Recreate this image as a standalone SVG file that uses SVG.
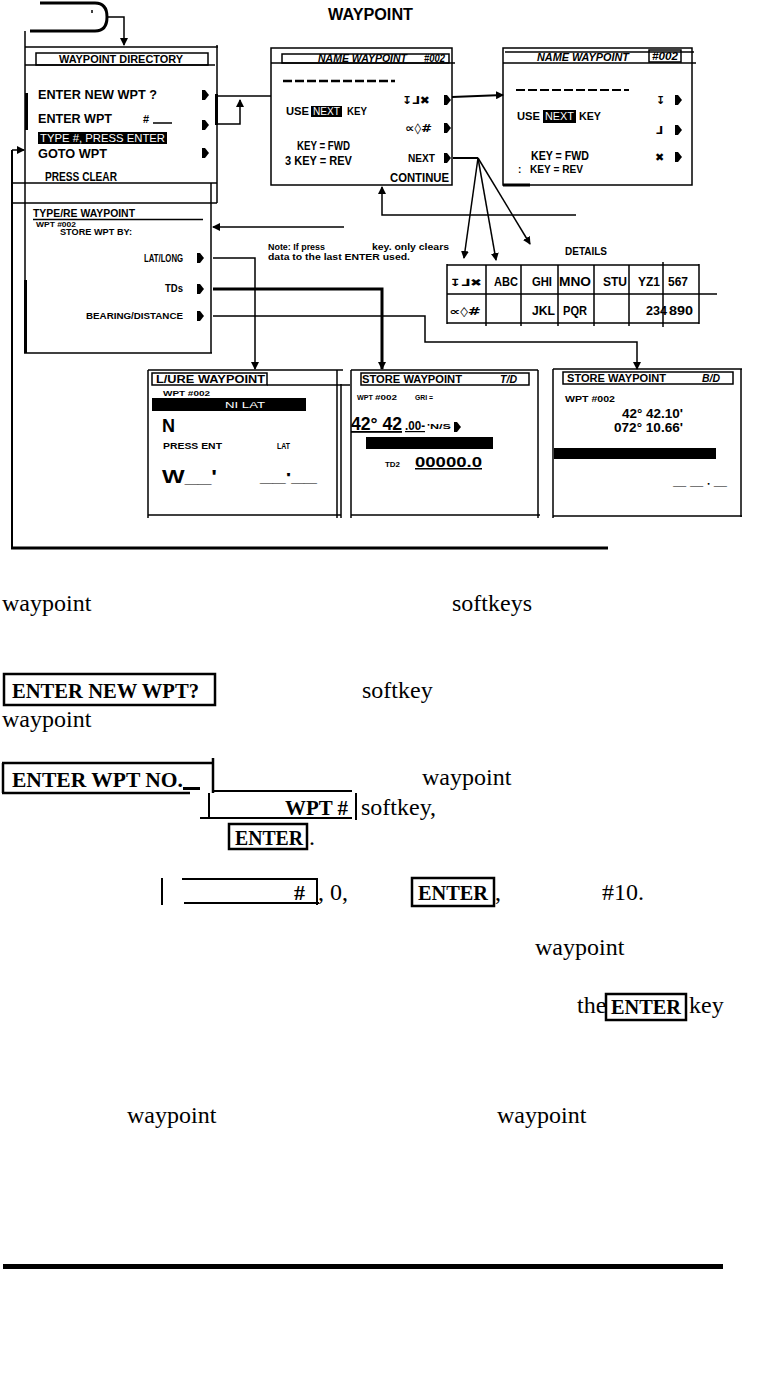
<svg xmlns="http://www.w3.org/2000/svg" width="784" height="1381" viewBox="0 0 784 1381">
<style>
.l{fill:none;stroke:#000;stroke-width:1.5}
.k{fill:none;stroke:#000;stroke-width:3}
.t{font-family:"Liberation Sans Narrow","Liberation Sans",Arial,sans-serif;font-weight:bold;fill:#000}
.s{font-family:"DejaVu Sans",sans-serif;font-weight:bold;fill:#000}
.w{fill:#fff;font-weight:normal}
.b{font-family:"Liberation Serif","Times New Roman",serif;font-size:24px;fill:#000}
.bb{font-family:"Liberation Serif","Times New Roman",serif;font-weight:bold;font-size:22px;fill:#000}
.bx{fill:none;stroke:#000;stroke-width:2.5}
</style>
<defs>
<marker id="ah" markerWidth="8" markerHeight="8" refX="7" refY="4" orient="auto" markerUnits="userSpaceOnUse"><path d="M0,0 L8,4 L0,8 Z"/></marker>
<path id="dia" d="M-3,-5 L0,-5 L4,0 L0,5 L-3,5 Z"/>
</defs>

<!-- top decoration -->
<g id="start">
<path class="k" d="M40,3 H95 Q107,3 107,17 Q107,31 95,31 H30"/>
<line x1="92" y1="10" x2="92" y2="13" class="l"/>
<text x="328" y="20" class="t" font-size="16" textLength="85" lengthAdjust="spacingAndGlyphs">WAYPOINT</text>
</g>

<!-- Waypoint directory -->
<g id="waypoint-directory">
<line x1="25" y1="31" x2="25" y2="203" class="l"/>
<line x1="25" y1="47" x2="218" y2="47" class="l" stroke-width="2"/>
<line x1="217" y1="45" x2="217" y2="203" class="l"/>
<rect x="36" y="53" width="172" height="12" class="l" stroke-width="1.2"/>
<line x1="25" y1="65" x2="215" y2="65" class="l" stroke-width="1"/>
<text x="59" y="63" class="t" font-size="11" textLength="124" lengthAdjust="spacingAndGlyphs">WAYPOINT DIRECTORY</text>
<rect x="25" y="93" width="3" height="37"/>
<rect x="215" y="94" width="3" height="31"/>
<text x="38" y="99" class="t" font-size="13" textLength="119" lengthAdjust="spacingAndGlyphs">ENTER NEW WPT ?</text>
<text x="38" y="123" class="t" font-size="13" textLength="74" lengthAdjust="spacingAndGlyphs">ENTER WPT</text>
<text x="143" y="123" class="t" font-size="11">#</text>
<line x1="153" y1="123" x2="172" y2="123" class="l"/>
<rect x="38" y="132" width="129" height="12"/>
<text x="40" y="142" class="t w" font-size="11" textLength="125" lengthAdjust="spacingAndGlyphs">TYPE #, PRESS ENTER</text>
<text x="38" y="158" class="t" font-size="12" textLength="69" lengthAdjust="spacingAndGlyphs">GOTO WPT</text>
<text x="45" y="181" class="t" font-size="12" textLength="72" lengthAdjust="spacingAndGlyphs">PRESS CLEAR</text>
<use href="#dia" x="205" y="95"/>
<use href="#dia" x="205" y="125"/>
<use href="#dia" x="205" y="153"/>
<line x1="12" y1="183" x2="217" y2="183" class="l" stroke-width="2"/>
</g>

<!-- Name waypoint 1 -->
<g id="name-waypoint-1">
<rect x="271" y="48" width="181" height="137" class="l" stroke-width="1.8"/>
<rect x="282" y="54" width="167" height="9" class="l" stroke-width="1"/>
<line x1="271" y1="63" x2="455" y2="63" class="l" stroke-width="1"/>
<text x="318" y="62" class="t" font-size="10" font-style="italic" textLength="89" lengthAdjust="spacingAndGlyphs">NAME WAYPOINT</text>
<text x="424" y="62" class="t" font-size="10" font-style="italic" textLength="21" lengthAdjust="spacingAndGlyphs">#002</text>
<line x1="283" y1="81" x2="395" y2="81" stroke="#000" stroke-width="2.5" stroke-dasharray="9 3"/>
<text x="286" y="115" class="t" font-size="11" textLength="23" lengthAdjust="spacingAndGlyphs">USE</text>
<rect x="311" y="106" width="31" height="11"/>
<text x="313" y="115" class="t w" font-size="10" textLength="27" lengthAdjust="spacingAndGlyphs">NEXT</text>
<text x="347" y="115" class="t" font-size="11" textLength="20" lengthAdjust="spacingAndGlyphs">KEY</text>
<text x="402" y="104" class="s" font-size="11" textLength="28" lengthAdjust="spacingAndGlyphs">↧⅃✖</text>
<text x="405" y="132" class="s" font-size="11" textLength="27" lengthAdjust="spacingAndGlyphs">∝◊#</text>
<use href="#dia" x="447" y="100"/>
<use href="#dia" x="447" y="128"/>
<text x="297" y="150" class="t" font-size="12" textLength="53" lengthAdjust="spacingAndGlyphs">KEY = FWD</text>
<text x="285" y="165" class="t" font-size="12" textLength="67" lengthAdjust="spacingAndGlyphs">3 KEY = REV</text>
<text x="408" y="162" class="t" font-size="11" textLength="27" lengthAdjust="spacingAndGlyphs">NEXT</text>
<use href="#dia" x="447" y="158"/>
<text x="390" y="182" class="t" font-size="12" textLength="59" lengthAdjust="spacingAndGlyphs">CONTINUE</text>
</g>

<!-- Name waypoint 2 -->
<g id="name-waypoint-2">
<rect x="503" y="48" width="189" height="137" class="l" stroke-width="1.8"/>
<line x1="505" y1="52" x2="694" y2="52" class="l" stroke-width="1"/>
<line x1="503" y1="63" x2="696" y2="63" class="l" stroke-width="1"/>
<text x="537" y="61" class="t" font-size="10" font-style="italic" textLength="92" lengthAdjust="spacingAndGlyphs">NAME WAYPOINT</text>
<rect x="649" y="50" width="32" height="12" class="l" stroke-width="1"/>
<text x="652" y="60" class="t" font-size="10" font-style="italic" textLength="26" lengthAdjust="spacingAndGlyphs">#002</text>
<line x1="516" y1="90" x2="629" y2="90" stroke="#000" stroke-width="2" stroke-dasharray="9 3"/>
<text x="517" y="120" class="t" font-size="11" textLength="23" lengthAdjust="spacingAndGlyphs">USE</text>
<rect x="543" y="110" width="33" height="13"/>
<text x="545" y="120" class="t w" font-size="10" textLength="29" lengthAdjust="spacingAndGlyphs">NEXT</text>
<text x="579" y="120" class="t" font-size="11" textLength="22" lengthAdjust="spacingAndGlyphs">KEY</text>
<text x="656" y="104" class="s" font-size="11">↧</text>
<text x="656" y="134" class="s" font-size="11">⅃</text>
<text x="655" y="161" class="s" font-size="11">✖</text>
<use href="#dia" x="678" y="100"/>
<use href="#dia" x="678" y="130"/>
<use href="#dia" x="678" y="157"/>
<text x="531" y="160" class="t" font-size="12" textLength="58" lengthAdjust="spacingAndGlyphs">KEY = FWD</text>
<text x="518" y="173" class="t" font-size="10">:</text>
<text x="530" y="173" class="t" font-size="11" textLength="53" lengthAdjust="spacingAndGlyphs">KEY = REV</text>
<line x1="503" y1="185" x2="530" y2="185" class="k"/>
</g>

<!-- Type/Re waypoint -->
<g id="type-re-waypoint">
<line x1="13" y1="203" x2="217" y2="203" class="l"/>
<line x1="25" y1="203" x2="25" y2="353" class="l"/>
<rect x="24" y="280" width="3" height="73"/>
<line x1="211" y1="183" x2="211" y2="353" class="l" stroke-width="2"/>
<line x1="24" y1="353" x2="212" y2="353" class="l" stroke-width="2.2"/>
<text x="33" y="217" class="t" font-size="10" textLength="102" lengthAdjust="spacingAndGlyphs">TYPE/RE WAYPOINT</text>
<line x1="33" y1="219.5" x2="203" y2="219.5" class="l" stroke-width="1"/>
<text x="36" y="227" class="t" font-size="8" textLength="40" lengthAdjust="spacingAndGlyphs">WPT #002</text>
<text x="60" y="235" class="t" font-size="9" textLength="72" lengthAdjust="spacingAndGlyphs">STORE WPT BY:</text>
<text x="144" y="262" class="t" font-size="10" textLength="39" lengthAdjust="spacingAndGlyphs">LAT/LONG</text>
<text x="165" y="292" class="t" font-size="10" textLength="18" lengthAdjust="spacingAndGlyphs">TDs</text>
<text x="86" y="319" class="t" font-size="9" textLength="97" lengthAdjust="spacingAndGlyphs">BEARING/DISTANCE</text>
<use href="#dia" x="200" y="258"/>
<use href="#dia" x="200" y="289"/>
<use href="#dia" x="200" y="316"/>
</g>

<!-- Note and details table -->
<g id="note">
<text x="268" y="250" class="t" font-size="9" textLength="57" lengthAdjust="spacingAndGlyphs">Note: If press</text>
<text x="372" y="250" class="t" font-size="9" textLength="77" lengthAdjust="spacingAndGlyphs">key. only clears</text>
<text x="268" y="260" class="t" font-size="9" textLength="142" lengthAdjust="spacingAndGlyphs">data to the last ENTER used.</text>
</g>
<g id="details">
<text x="565" y="255" class="t" font-size="10" textLength="42" lengthAdjust="spacingAndGlyphs">DETAILS</text>
<line x1="447" y1="265" x2="699" y2="265" class="l" stroke-width="2"/>
<line x1="447" y1="294" x2="717" y2="294" class="l" stroke-width="1"/>
<line x1="447" y1="323" x2="699" y2="323" class="l" stroke-width="1.8"/>
<line x1="447" y1="264" x2="447" y2="324" class="l" stroke-width="2.2"/>
<line x1="699" y1="264" x2="699" y2="324" class="l" stroke-width="2"/>
<line x1="486" y1="265" x2="486" y2="326" class="l" stroke-width="1"/>
<line x1="521" y1="265" x2="521" y2="326" class="l" stroke-width="1"/>
<line x1="558" y1="265" x2="558" y2="326" class="l" stroke-width="1"/>
<line x1="594" y1="265" x2="594" y2="326" class="l" stroke-width="1"/>
<line x1="629" y1="265" x2="629" y2="326" class="l" stroke-width="1"/>
<line x1="663" y1="262" x2="663" y2="327" class="l" stroke-width="2"/>
<text x="449" y="286" class="s" font-size="10" textLength="33" lengthAdjust="spacingAndGlyphs">↧⅃✖</text>
<text x="494" y="286" class="t" font-size="12" textLength="24" lengthAdjust="spacingAndGlyphs">ABC</text>
<text x="532" y="286" class="t" font-size="12" textLength="20" lengthAdjust="spacingAndGlyphs">GHI</text>
<text x="559" y="286" class="t" font-size="12" textLength="32" lengthAdjust="spacingAndGlyphs">MNO</text>
<text x="603" y="286" class="t" font-size="12" textLength="24" lengthAdjust="spacingAndGlyphs">STU</text>
<text x="638" y="286" class="t" font-size="12" textLength="22" lengthAdjust="spacingAndGlyphs">YZ1</text>
<text x="668" y="286" class="t" font-size="12" textLength="20" lengthAdjust="spacingAndGlyphs">567</text>
<text x="449" y="315" class="s" font-size="10" textLength="32" lengthAdjust="spacingAndGlyphs">∝◊#</text>
<text x="532" y="315" class="t" font-size="12" textLength="23" lengthAdjust="spacingAndGlyphs">JKL</text>
<text x="563" y="315" class="t" font-size="12" textLength="24" lengthAdjust="spacingAndGlyphs">PQR</text>
<text x="646" y="315" class="t" font-size="12" textLength="21" lengthAdjust="spacingAndGlyphs">234</text>
<text x="669" y="315" class="t" font-size="12" textLength="24" lengthAdjust="spacingAndGlyphs">890</text>
</g>

<!-- Store waypoint L/L -->
<g id="store-ll">
<line x1="148" y1="370" x2="343" y2="370" class="l" stroke-width="2"/>
<line x1="148" y1="370" x2="148" y2="518" class="l" stroke-width="1.8"/>
<line x1="337" y1="370" x2="337" y2="518" class="l" stroke-width="1.5"/>
<line x1="341" y1="384" x2="341" y2="518" class="l" stroke-width="1"/>
<line x1="148" y1="515" x2="341" y2="515" class="l" stroke-width="2"/>
<rect x="152" y="373" width="115" height="12" class="l" stroke-width="1.3"/>
<line x1="267" y1="385" x2="350" y2="385" class="l" stroke-width="1"/>
<text x="156" y="383" class="t" font-size="10" textLength="109" lengthAdjust="spacingAndGlyphs">L/URE WAYPOINT</text>
<text x="163" y="396" class="t" font-size="8" textLength="47" lengthAdjust="spacingAndGlyphs">WPT #002</text>
<rect x="152" y="398" width="154" height="13"/>
<text x="225" y="408" class="t w" font-size="9" textLength="40" lengthAdjust="spacingAndGlyphs">NI LAT</text>
<text x="162" y="432" class="t" font-size="18">N</text>
<text x="163" y="449" class="t" font-size="9" textLength="59" lengthAdjust="spacingAndGlyphs">PRESS ENT</text>
<text x="277" y="449" class="t" font-size="9" textLength="13" lengthAdjust="spacingAndGlyphs">LAT</text>
<text x="162" y="483" class="t" font-size="18" textLength="55" lengthAdjust="spacingAndGlyphs">W__'</text>
<text x="260" y="482" class="t" font-size="12" textLength="57" lengthAdjust="spacingAndGlyphs">__'__</text>
</g>

<!-- Store waypoint T/D -->
<g id="store-td">
<line x1="351" y1="370" x2="538" y2="370" class="l" stroke-width="1.8"/>
<line x1="351" y1="370" x2="351" y2="518" class="l" stroke-width="2.5"/>
<line x1="538" y1="370" x2="538" y2="518" class="l" stroke-width="1"/>
<line x1="351" y1="515" x2="540" y2="515" class="l" stroke-width="2"/>
<rect x="361" y="373" width="168" height="12" class="l" stroke-width="1.3"/>
<text x="362" y="383" class="t" font-size="10" textLength="100" lengthAdjust="spacingAndGlyphs">STORE WAYPOINT</text>
<text x="500" y="383" class="t" font-size="10" font-style="italic" textLength="17" lengthAdjust="spacingAndGlyphs">T/D</text>
<text x="357" y="400" class="t" font-size="8" textLength="16" lengthAdjust="spacingAndGlyphs">WPT</text>
<text x="375" y="400" class="t" font-size="7" textLength="22" lengthAdjust="spacingAndGlyphs">#002</text>
<text x="415" y="400" class="t" font-size="7" textLength="18" lengthAdjust="spacingAndGlyphs">GRI =</text>
<text x="351" y="430" class="t" font-size="18" text-decoration="underline" textLength="51" lengthAdjust="spacingAndGlyphs">42° 42</text>
<text x="405" y="430" class="t" font-size="12" text-decoration="underline" textLength="20" lengthAdjust="spacingAndGlyphs">.00-</text>
<text x="427" y="429" class="t" font-size="7" textLength="24" lengthAdjust="spacingAndGlyphs">'N/S</text>
<use href="#dia" x="457" y="427"/>
<rect x="366" y="437" width="127" height="12"/>
<text x="385" y="467" class="t" font-size="7" textLength="15" lengthAdjust="spacingAndGlyphs">TD2</text>
<text x="415" y="467" class="t" font-size="15" text-decoration="underline" textLength="67" lengthAdjust="spacingAndGlyphs">00000.0</text>
</g>

<!-- Store waypoint B/D -->
<g id="store-bd">
<line x1="553" y1="369" x2="742" y2="369" class="l" stroke-width="2"/>
<line x1="553" y1="369" x2="553" y2="518" class="l" stroke-width="1"/>
<line x1="741" y1="369" x2="741" y2="517" class="l" stroke-width="3"/>
<line x1="553" y1="516" x2="742" y2="516" class="l" stroke-width="2.5"/>
<rect x="563" y="372" width="170" height="12" class="l" stroke-width="1.3"/>
<text x="567" y="382" class="t" font-size="10" textLength="99" lengthAdjust="spacingAndGlyphs">STORE WAYPOINT</text>
<text x="702" y="382" class="t" font-size="10" font-style="italic" textLength="18" lengthAdjust="spacingAndGlyphs">B/D</text>
<text x="565" y="402" class="t" font-size="9" textLength="50" lengthAdjust="spacingAndGlyphs">WPT #002</text>
<text x="622" y="418" class="t" font-size="12" textLength="61" lengthAdjust="spacingAndGlyphs">42° 42.10'</text>
<text x="614" y="432" class="t" font-size="12" textLength="69" lengthAdjust="spacingAndGlyphs">072° 10.66'</text>
<rect x="554" y="448" width="162" height="11"/>
<text x="673" y="488" class="t" font-size="8" textLength="54" lengthAdjust="spacingAndGlyphs">— — ' —</text>
</g>

<!-- connectors -->
<g id="connectors" fill="none" stroke="#000" stroke-width="1.5">
<polyline points="107,17 124,17 124,45" marker-end="url(#ah)"/>
<polyline points="218,96 271,96"/>
<polyline points="218,124 240,124 240,100" marker-end="url(#ah)"/>
<polyline points="12,150 24,150" marker-end="url(#ah)"/>
<line x1="12" y1="150" x2="12" y2="549" stroke-width="2"/>
<line x1="11" y1="548" x2="608" y2="548" stroke-width="3"/>
<polyline points="452,97 503,95" stroke-width="2" marker-end="url(#ah)"/>
<polyline points="453,158 478,158" stroke-width="2"/>
<line x1="478" y1="158" x2="464" y2="258" marker-end="url(#ah)"/>
<line x1="478" y1="158" x2="496" y2="260" marker-end="url(#ah)"/>
<line x1="478" y1="158" x2="530" y2="244" marker-end="url(#ah)"/>
<polyline points="576,215 382,215 382,187" marker-end="url(#ah)"/>
<polyline points="344,227 213,227" marker-end="url(#ah)"/>
<polyline points="213,258 255,258 255,369" marker-end="url(#ah)"/>
<polyline points="213,289 382,289 382,369" stroke-width="3" marker-end="url(#ah)"/>
<polyline points="213,316 425,316 425,342 637,342 637,369" marker-end="url(#ah)"/>
</g>

<!-- body text -->
<g id="body-text">
<text x="2" y="611" class="b">waypoint</text>
<text x="452" y="611" class="b">softkeys</text>
<rect x="4" y="674" width="211" height="31" class="bx"/>
<text x="12" y="698" class="bb" textLength="187" lengthAdjust="spacingAndGlyphs">ENTER NEW WPT?</text>
<text x="362" y="698" class="b">softkey</text>
<text x="2" y="727" class="b">waypoint</text>
<path class="bx" d="M2,763 H213 M3,763 V793 M2,793 H190 M213,758 V793"/>
<text x="12" y="787" class="bb" textLength="171" lengthAdjust="spacingAndGlyphs">ENTER WPT NO.</text>
<rect x="183" y="787" width="17" height="3"/>
<text x="422" y="785" class="b">waypoint</text>
<path fill="none" stroke="#000" stroke-width="2" d="M213,791 H352 M209,793 V819 M200,818 H352 M356,793 V820"/>
<text x="285" y="815" class="bb" textLength="63" lengthAdjust="spacingAndGlyphs">WPT #</text>
<text x="361" y="815" class="b">softkey,</text>
<rect x="229" y="824" width="78" height="25" class="bx"/>
<text x="235" y="845" class="bb" textLength="68" lengthAdjust="spacingAndGlyphs">ENTER</text>
<text x="309" y="845" class="b">.</text>
<line x1="162" y1="878" x2="162" y2="905" stroke="#000" stroke-width="2"/>
<path fill="none" stroke="#000" stroke-width="2" d="M182,879 H317 M184,903 H319 M317,878 V905"/>
<text x="294" y="900" class="bb">#</text>
<text x="318" y="900" class="b">, 0,</text>
<rect x="412" y="878" width="82" height="28" class="bx"/>
<text x="418" y="900" class="bb" textLength="70" lengthAdjust="spacingAndGlyphs">ENTER</text>
<text x="495" y="900" class="b">,</text>
<text x="602" y="900" class="b">#10.</text>
<text x="535" y="955" class="b">waypoint</text>
<text x="577" y="1013" class="b">the</text>
<rect x="606" y="994" width="80" height="26" class="bx"/>
<text x="611" y="1014" class="bb" textLength="70" lengthAdjust="spacingAndGlyphs">ENTER</text>
<text x="689" y="1013" class="b">key</text>
<text x="127" y="1123" class="b">waypoint</text>
<text x="497" y="1123" class="b">waypoint</text>
<rect x="3" y="1264" width="720" height="5"/>
</g>
</svg>
